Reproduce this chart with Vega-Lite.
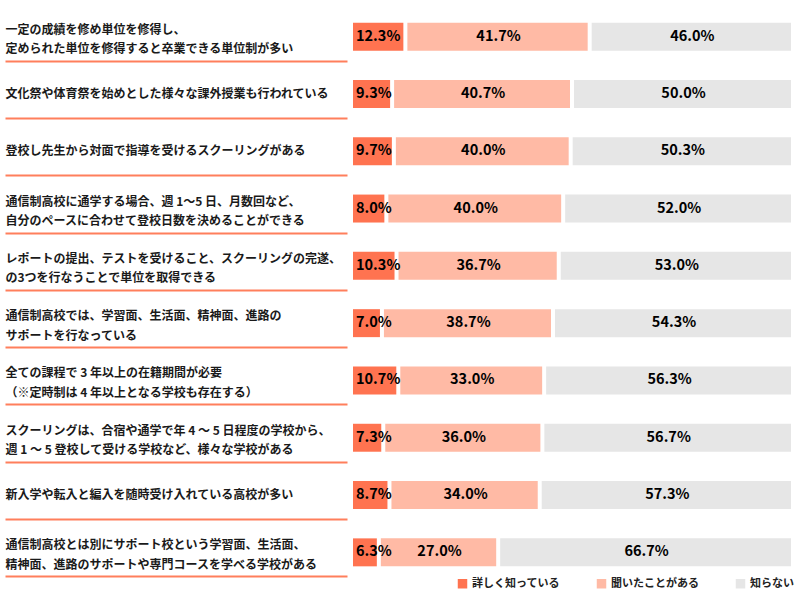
{
  "$schema": "https://vega.github.io/schema/vega-lite/v6.json",
  "width": 442,
  "height": 573,
  "autosize": {"type": "none"},
  "padding": {"left": 353, "top": 8, "right": 3, "bottom": 19},
  "background": "white",
  "config": {
    "view": {"stroke": null},
    "font": "Noto Sans CJK JP"
  },
  "data": {
    "values": [
      {"q": "一定の成績を修め単位を修得し、|定められた単位を修得すると卒業できる単位制が多い", "cat": "詳しく知っている", "o": 1, "v": 12.3},
      {"q": "一定の成績を修め単位を修得し、|定められた単位を修得すると卒業できる単位制が多い", "cat": "聞いたことがある", "o": 2, "v": 41.7},
      {"q": "一定の成績を修め単位を修得し、|定められた単位を修得すると卒業できる単位制が多い", "cat": "知らない", "o": 3, "v": 46.0},
      {"q": "文化祭や体育祭を始めとした様々な課外授業も行われている", "cat": "詳しく知っている", "o": 1, "v": 9.3},
      {"q": "文化祭や体育祭を始めとした様々な課外授業も行われている", "cat": "聞いたことがある", "o": 2, "v": 40.7},
      {"q": "文化祭や体育祭を始めとした様々な課外授業も行われている", "cat": "知らない", "o": 3, "v": 50.0},
      {"q": "登校し先生から対面で指導を受けるスクーリングがある", "cat": "詳しく知っている", "o": 1, "v": 9.7},
      {"q": "登校し先生から対面で指導を受けるスクーリングがある", "cat": "聞いたことがある", "o": 2, "v": 40.0},
      {"q": "登校し先生から対面で指導を受けるスクーリングがある", "cat": "知らない", "o": 3, "v": 50.3},
      {"q": "通信制高校に通学する場合、週 1～5 日、月数回など、|自分のペースに合わせて登校日数を決めることができる", "cat": "詳しく知っている", "o": 1, "v": 8.0},
      {"q": "通信制高校に通学する場合、週 1～5 日、月数回など、|自分のペースに合わせて登校日数を決めることができる", "cat": "聞いたことがある", "o": 2, "v": 40.0},
      {"q": "通信制高校に通学する場合、週 1～5 日、月数回など、|自分のペースに合わせて登校日数を決めることができる", "cat": "知らない", "o": 3, "v": 52.0},
      {"q": "レポートの提出、テストを受けること、スクーリングの完遂、|の3つを行なうことで単位を取得できる", "cat": "詳しく知っている", "o": 1, "v": 10.3},
      {"q": "レポートの提出、テストを受けること、スクーリングの完遂、|の3つを行なうことで単位を取得できる", "cat": "聞いたことがある", "o": 2, "v": 36.7},
      {"q": "レポートの提出、テストを受けること、スクーリングの完遂、|の3つを行なうことで単位を取得できる", "cat": "知らない", "o": 3, "v": 53.0},
      {"q": "通信制高校では、学習面、生活面、精神面、進路の|サポートを行なっている", "cat": "詳しく知っている", "o": 1, "v": 7.0},
      {"q": "通信制高校では、学習面、生活面、精神面、進路の|サポートを行なっている", "cat": "聞いたことがある", "o": 2, "v": 38.7},
      {"q": "通信制高校では、学習面、生活面、精神面、進路の|サポートを行なっている", "cat": "知らない", "o": 3, "v": 54.3},
      {"q": "全ての課程で 3 年以上の在籍期間が必要|（※定時制は 4 年以上となる学校も存在する）", "cat": "詳しく知っている", "o": 1, "v": 10.7},
      {"q": "全ての課程で 3 年以上の在籍期間が必要|（※定時制は 4 年以上となる学校も存在する）", "cat": "聞いたことがある", "o": 2, "v": 33.0},
      {"q": "全ての課程で 3 年以上の在籍期間が必要|（※定時制は 4 年以上となる学校も存在する）", "cat": "知らない", "o": 3, "v": 56.3},
      {"q": "スクーリングは、合宿や通学で年 4 ～ 5 日程度の学校から、|週 1 ～ 5 登校して受ける学校など、様々な学校がある", "cat": "詳しく知っている", "o": 1, "v": 7.3},
      {"q": "スクーリングは、合宿や通学で年 4 ～ 5 日程度の学校から、|週 1 ～ 5 登校して受ける学校など、様々な学校がある", "cat": "聞いたことがある", "o": 2, "v": 36.0},
      {"q": "スクーリングは、合宿や通学で年 4 ～ 5 日程度の学校から、|週 1 ～ 5 登校して受ける学校など、様々な学校がある", "cat": "知らない", "o": 3, "v": 56.7},
      {"q": "新入学や転入と編入を随時受け入れている高校が多い", "cat": "詳しく知っている", "o": 1, "v": 8.7},
      {"q": "新入学や転入と編入を随時受け入れている高校が多い", "cat": "聞いたことがある", "o": 2, "v": 34.0},
      {"q": "新入学や転入と編入を随時受け入れている高校が多い", "cat": "知らない", "o": 3, "v": 57.3},
      {"q": "通信制高校とは別にサポート校という学習面、生活面、|精神面、進路のサポートや専門コースを学べる学校がある", "cat": "詳しく知っている", "o": 1, "v": 6.3},
      {"q": "通信制高校とは別にサポート校という学習面、生活面、|精神面、進路のサポートや専門コースを学べる学校がある", "cat": "聞いたことがある", "o": 2, "v": 27.0},
      {"q": "通信制高校とは別にサポート校という学習面、生活面、|精神面、進路のサポートや専門コースを学べる学校がある", "cat": "知らない", "o": 3, "v": 66.7}
    ]
  },
  "transform": [
    {"stack": "v", "groupby": ["q"], "sort": [{"field": "o", "order": "ascending"}], "as": ["x0", "x1"]},
    {"calculate": "(datum.x0 + datum.x1) / 2", "as": "mid"},
    {"calculate": "format(datum.v, '.1f') + '%'", "as": "lbl"}
  ],
  "encoding": {
    "y": {
      "field": "q",
      "type": "nominal",
      "sort": null,
      "scale": {"paddingInner": 0.512, "paddingOuter": 0.256},
      "axis": {
        "title": null,
        "domain": false,
        "ticks": true,
        "grid": false,
        "tickColor": "#FF7F5C",
        "tickWidth": 2,
        "tickSize": 342,
        "offset": 6,
        "bandPosition": 0.5,
        "tickOffset": 24,
        "labelOffset": {"condition": {"test": "indexof(datum.value, '|') >= 0", "value": -31.5}, "value": -24.5},
        "labelAlign": "left",
        "labelBaseline": "middle",
        "labelPadding": 0,
        "labelLineHeight": 19.5,
        "labelLimit": 0,
        "labelFont": "Noto Sans CJK JP",
        "labelFontSize": 12,
        "labelFontWeight": "bold",
        "labelColor": "#1a1a1a",
        "labelExpr": "split(datum.value, '|')"
      }
    }
  },
  "layer": [
    {
      "mark": {"type": "bar", "x2Offset": -4},
      "encoding": {
        "x": {"field": "x0", "type": "quantitative", "scale": {"domain": [0, 100], "nice": false}, "axis": null},
        "x2": {"field": "x1"},
        "color": {
          "field": "cat",
          "type": "nominal",
          "sort": ["詳しく知っている", "聞いたことがある", "知らない"],
          "scale": {"domain": ["詳しく知っている", "聞いたことがある", "知らない"], "range": ["#FF7350", "#FFBAA5", "#E6E6E6"]},
          "legend": {
            "title": null,
            "orient": "none",
            "legendX": 104,
            "legendY": 570,
            "direction": "horizontal",
            "columns": 3,
            "gridAlign": "all",
            "columnPadding": 36,
            "padding": 0,
            "symbolType": "square",
            "symbolSize": 90,
            "symbolStrokeWidth": 0,
            "symbolOpacity": 1,
            "labelOffset": 4,
            "labelFont": "Noto Sans CJK JP",
            "labelFontSize": 11,
            "labelFontWeight": "bold",
            "labelColor": "#222222",
            "labelLimit": 0
          }
        }
      }
    },
    {
      "transform": [{"filter": "datum.o == 1"}],
      "mark": {"type": "text", "align": "left", "baseline": "middle", "dx": 3, "font": "Noto Sans CJK JP", "fontWeight": "bold", "fontSize": 14.5, "color": "#000000"},
      "encoding": {
        "x": {"field": "x0", "type": "quantitative"},
        "text": {"field": "lbl"}
      }
    },
    {
      "transform": [{"filter": "datum.o > 1"}],
      "mark": {"type": "text", "align": "center", "baseline": "middle", "dx": -1, "font": "Noto Sans CJK JP", "fontWeight": "bold", "fontSize": 14.5, "color": "#000000"},
      "encoding": {
        "x": {"field": "mid", "type": "quantitative"},
        "text": {"field": "lbl"}
      }
    }
  ]
}
